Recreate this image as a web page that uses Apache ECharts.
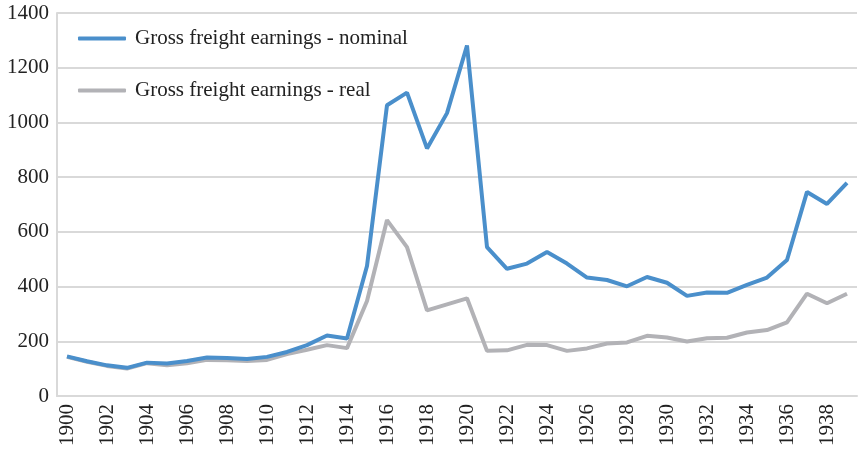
<!DOCTYPE html>
<html>
<head>
<meta charset="utf-8">
<script src="https://cdn.jsdelivr.net/npm/echarts@6/dist/echarts.min.js"></script>
<style>
  html, body { margin: 0; padding: 0; background: #fff; }
  #chart { width: 859px; height: 449px; }
</style>
</head>
<body>
<div id="chart"></div>
<script>
// years 1900..1939
var years = [];
for (var y = 1900; y <= 1939; y++) years.push(String(y));

var nominal = [145, 127, 112, 103, 122, 119, 128, 141, 139, 135,
               143, 161, 186, 221, 210, 475, 1063, 1109, 905, 1034,
               1281, 544, 465, 484, 526, 484, 433, 424, 401, 435,
               414, 366, 378, 377, 406, 433, 497, 746, 702, 779];

var real = [143, 125, 110, 100, 120, 112, 120, 132, 131, 128,
            132, 153, 169, 186, 175, 347, 643, 544, 313, 335,
            357, 165, 167, 187, 186, 165, 174, 192, 196, 220,
            214, 199, 211, 213, 232, 241, 269, 374, 339, 374];

var seriesNames = ['Gross freight earnings - nominal', 'Gross freight earnings - real'];

var font = 'Liberation Serif';
var chart = echarts.init(document.getElementById('chart'));
chart.setOption({
  animation: false,
  grid: { left: 57, right: 2, top: 13, bottom: 52 },
  legend: {
    orient: 'vertical',
    left: 73,
    top: 23,
    itemWidth: 48,
    itemHeight: 4,
    itemGap: 31,
    icon: 'roundRect',
    textStyle: { fontFamily: font, fontSize: 21, color: '#222', lineHeight: 20, padding: [0, 0, 0, 4] },
    data: seriesNames
  },
  xAxis: {
    type: 'category',
    data: years,
    boundaryGap: true,
    axisLine: { lineStyle: { color: '#d9d9d9', width: 2 } },
    axisTick: { show: false },
    axisLabel: {
      rotate: 90,
      interval: 1,
      margin: 8,
      fontFamily: font,
      fontSize: 21,
      color: '#222'
    }
  },
  yAxis: {
    type: 'value',
    min: 0,
    max: 1400,
    interval: 200,
    axisLine: { show: true, lineStyle: { color: '#d9d9d9', width: 2 } },
    axisTick: { show: false },
    splitLine: { lineStyle: { color: '#d9d9d9', width: 2 } },
    axisLabel: {
      margin: 8,
      fontFamily: font,
      fontSize: 21,
      color: '#222',
      formatter: function (v) { return String(v); }
    }
  },
  series: [
    {
      name: seriesNames[0],
      type: 'line',
      data: nominal,
      symbol: 'none',
      z: 3,
      itemStyle: { color: '#4a8fcb' },
      lineStyle: { color: '#4a8fcb', width: 4 }
    },
    {
      name: seriesNames[1],
      type: 'line',
      data: real,
      symbol: 'none',
      z: 2,
      itemStyle: { color: '#b2b2b6' },
      lineStyle: { color: '#b2b2b6', width: 4 }
    }
  ]
});
</script>
</body>
</html>
